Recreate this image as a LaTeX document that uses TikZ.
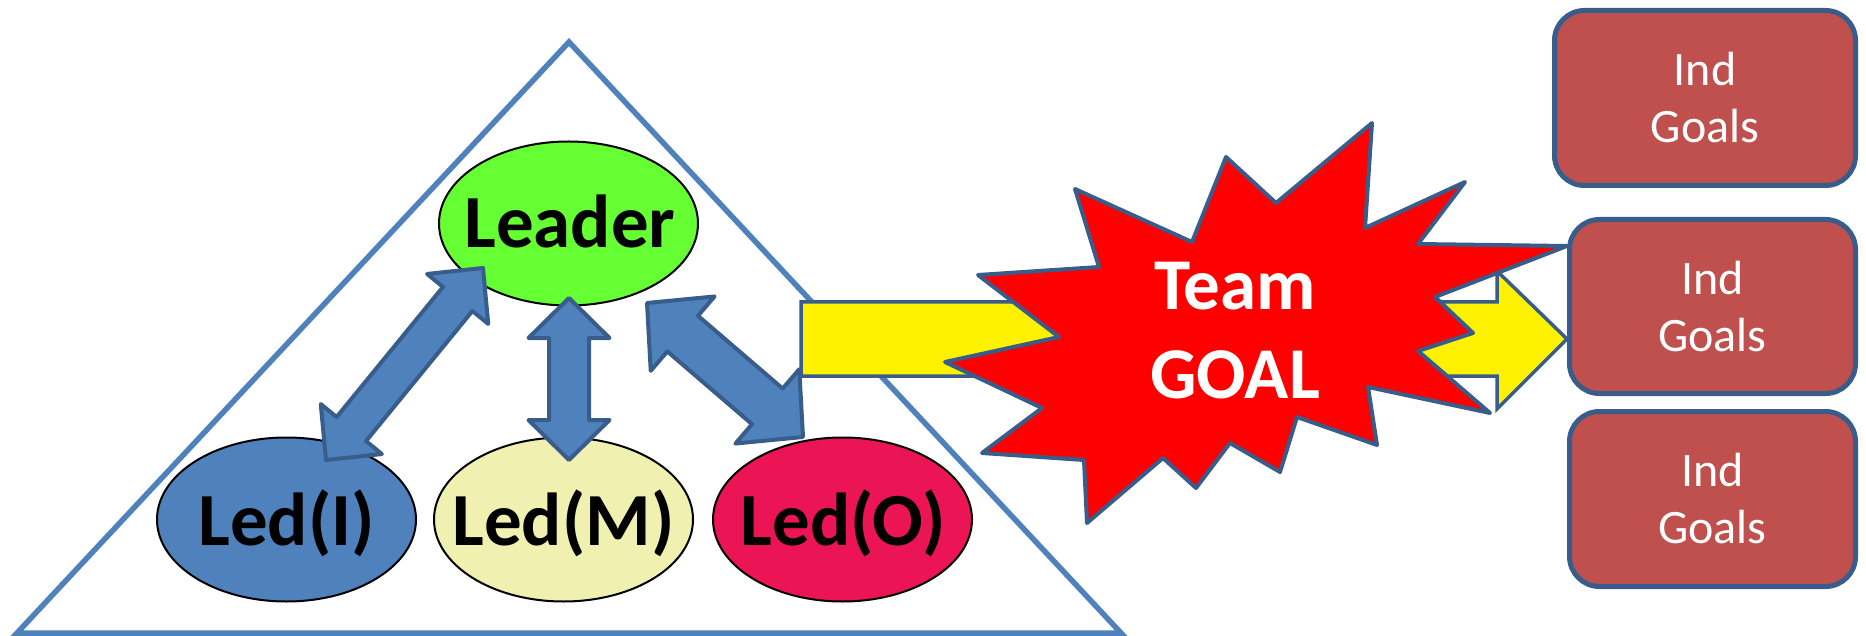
\documentclass[tikz,border=0pt]{standalone}
\usepackage{fontspec}
\setmainfont{Carlito}
\usetikzlibrary{calc,shapes.geometric}
\definecolor{triblue}{HTML}{4F81BD}
\definecolor{darkline}{HTML}{385D8A}
\definecolor{leadgreen}{HTML}{66FF33}
\definecolor{ledm}{HTML}{F0F0B0}
\definecolor{ledo}{HTML}{EB1455}
\definecolor{boxred}{HTML}{C0504D}
\newcommand\dblarrow[5]{%
  \path ($(#1)!#3!(#2)$) coordinate (ha) ($(#2)!#3!(#1)$) coordinate (hb);
  \draw[blockarrow] (#1) -- ($(ha)!#4!90:(#2)$) -- ($(ha)!#5!90:(#2)$)
    -- ($(hb)!#5!-90:(#1)$) -- ($(hb)!#4!-90:(#1)$) -- (#2)
    -- ($(hb)!#4!90:(#1)$) -- ($(hb)!#5!90:(#1)$)
    -- ($(ha)!#5!-90:(#2)$) -- ($(ha)!#4!-90:(#2)$) -- cycle;
}
\tikzset{
  oval/.style={ellipse, draw=black, line width=2pt, minimum width=259pt, minimum height=164pt, inner sep=0pt},
  bigtext/.style={font={\bfseries\fontsize{75}{88}\selectfont}, text=black, inner sep=0pt, anchor=base},
  blockarrow/.style={fill=triblue, draw=darkline, line width=4pt, line join=round},
  indbox/.style={draw=darkline, fill=boxred, line width=5pt, rounded corners=30pt, align=center,
    text=white, inner sep=0pt, font={\fontsize{48}{57}\selectfont}},
}
\begin{document}
\begin{tikzpicture}[x=1pt,y=-1pt]
\useasboundingbox (0,0) rectangle (1866,636);
% triangle
\draw[triblue, line width=5.5pt] (569,42) -- (1121,633) -- (17,633) -- cycle;
% ellipses
\node[oval, fill=leadgreen] (leader) at (568.5,223.5) {};
\node[oval, fill=triblue] (ledi) at (286.5,519.5) {};
\node[oval, fill=ledm] (ledm) at (563.5,519.5) {};
\node[oval, fill=ledo] (ledo) at (842.5,519.5) {};
\node[bigtext] (leadertxt) at (570,248) {Leader};
\node[bigtext] (leditxt) at (286.5,545) {Led(I)};
\node[bigtext] (ledmtxt) at (563.5,545) {Led(M)};
\node[bigtext] (ledotxt) at (843,545) {Led(O)};
% double arrows
\coordinate (a1s) at (483,268); \coordinate (a1e) at (326,460);
\coordinate (a2s) at (569,298); \coordinate (a2e) at (569,460);
\coordinate (a3s) at (647,303); \coordinate (a3e) at (803,437);
\dblarrow{a1s}{a1e}{40pt}{39.5pt}{19pt}
\dblarrow{a2s}{a2e}{40pt}{40.5pt}{20pt}
\dblarrow{a3s}{a3e}{47pt}{49pt}{23.5pt}
% boxes
\node[indbox, minimum width=301pt, minimum height=175pt] (box1) at (1705,98) {Ind\\Goals};
\node[indbox, minimum width=286pt, minimum height=174pt] (box2) at (1712.5,306.5) {Ind\\Goals};
\node[indbox, minimum width=286pt, minimum height=175pt] (box3) at (1712.5,499) {Ind\\Goals};
% yellow arrow
\coordinate (ystart) at (801,339);
\draw[fill=yellow, draw=darkline, line width=3.5pt, line join=miter]
  (ystart |- 0,302) -- (1497,302) -- (1497,271) -- (box2.west |- 0,339) -- (1497,409) -- (1497,376) -- (ystart |- 0,376) -- cycle;
% star
\draw[fill=red, draw=darkline, line width=4pt, line join=round]
  (1075,189) -- (1192,242) -- (1226,157) -- (1276,203) -- (1372,123) -- (1365,228)
  -- (1465,182) -- (1418,244) -- (1567,246) -- (1435,297) -- (1473,333) -- (1418,351)
  -- (1490,413) -- (1368,387) -- (1377,445) -- (1297,417) -- (1280,472) -- (1230,443)
  -- (1196,488) -- (1163,458) -- (1087,523) -- (1084,460) -- (982,453) -- (1042,408)
  -- (945,362) -- (1059,337) -- (978,275) -- (1099,267) -- cycle;
\node[font={\bfseries\fontsize{73}{89}\selectfont}, text=white, align=center, inner sep=0pt] (goal) at (1235,330.5) {Team\\GOAL};
\end{tikzpicture}
\end{document}
